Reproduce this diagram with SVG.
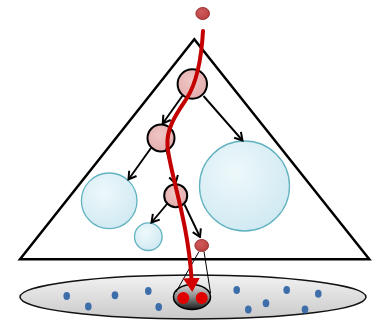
<svg xmlns="http://www.w3.org/2000/svg" width="376" height="321" viewBox="0 0 376 321">
<defs>
<radialGradient id="gPink" cx="0.45" cy="0.4" r="0.7">
<stop offset="0" stop-color="#f0c6c6"/>
<stop offset="1" stop-color="#e2a9a9"/>
</radialGradient>
<radialGradient id="gBlue" cx="0.4" cy="0.35" r="0.75">
<stop offset="0" stop-color="#eef8fb"/>
<stop offset="1" stop-color="#cde8f1"/>
</radialGradient>
<radialGradient id="gRed" cx="0.4" cy="0.35" r="0.7">
<stop offset="0" stop-color="#d05a5a"/>
<stop offset="1" stop-color="#b84040"/>
</radialGradient>
<linearGradient id="gBase" x1="0" y1="0" x2="0" y2="1">
<stop offset="0" stop-color="#f2f2f2"/>
<stop offset="1" stop-color="#c9c9c9"/>
</linearGradient>
<linearGradient id="gLeaf" x1="0" y1="0" x2="0" y2="1">
<stop offset="0" stop-color="#d8d8d8"/>
<stop offset="0.5" stop-color="#8a8a8a"/>
<stop offset="1" stop-color="#1a1a1a"/>
</linearGradient>
<marker id="aBlack" viewBox="0 0 12 12" refX="10.5" refY="6" markerWidth="12" markerHeight="12" markerUnits="userSpaceOnUse" orient="auto">
<path d="M3,1.5 L10.5,6 L3,10.5" fill="none" stroke="#000" stroke-width="2"/>
</marker>
<marker id="aRed" viewBox="0 0 14 17" refX="1" refY="8.5" markerWidth="14" markerHeight="17" markerUnits="userSpaceOnUse" orient="auto">
<path d="M0,0 L14,8.5 L0,17 Z" fill="#d40000"/>
</marker>
<style>
.pink{fill:url(#gPink);stroke:#000;stroke-width:2}
.blue{fill:url(#gBlue);stroke:#62b3c0;stroke-width:1.3}
.reddot{fill:url(#gRed);stroke:#9a3030;stroke-width:1}
.blu{fill:#3d6eaa}
.conn{fill:none;stroke:#000;stroke-width:1.9;marker-end:url(#aBlack)}
.cone{fill:none;stroke:#000;stroke-width:1}
</style>
</defs>
<rect width="376" height="321" fill="#fff"/>

<g id="base">
<ellipse cx="193" cy="297" rx="173" ry="22" fill="url(#gBase)" stroke="#111" stroke-width="1.5"/>
<ellipse class="blu" cx="66.7" cy="296" rx="3.3" ry="4"/>
<ellipse class="blu" cx="88.3" cy="306.5" rx="3.3" ry="4"/>
<ellipse class="blu" cx="115" cy="295.3" rx="3.3" ry="4"/>
<ellipse class="blu" cx="148.3" cy="291" rx="3.3" ry="4"/>
<ellipse class="blu" cx="158.7" cy="307" rx="3.3" ry="4"/>
<ellipse class="blu" cx="236.7" cy="290" rx="3.3" ry="4"/>
<ellipse class="blu" cx="248.3" cy="309.5" rx="3.3" ry="4"/>
<ellipse class="blu" cx="266" cy="303.3" rx="3.3" ry="4"/>
<ellipse class="blu" cx="286.7" cy="290" rx="3.3" ry="4"/>
<ellipse class="blu" cx="305" cy="309.5" rx="3.3" ry="4"/>
<ellipse class="blu" cx="318.3" cy="293.7" rx="3.3" ry="4"/>
</g>

<g id="tree">
<path d="M194.3,39.3 L369.3,259.3 L20,259.3 Z" fill="none" stroke="#000" stroke-width="2.5" stroke-linejoin="miter"/>
</g>

<g id="leafset">
<ellipse cx="192" cy="297" rx="18.5" ry="12.5" fill="url(#gLeaf)" stroke="#000" stroke-width="1.5"/>
<circle cx="183.3" cy="298" r="6" fill="#e00000"/>
<circle cx="201.7" cy="298" r="6" fill="#e00000"/>
</g>

<g id="cone">
<line class="cone" x1="199" y1="251.5" x2="176" y2="292"/>
<line class="cone" x1="204" y1="251.5" x2="210.5" y2="293"/>
</g>

<g id="n1"><circle class="pink" cx="192.3" cy="84" r="14.7"/></g>
<g id="n2"><circle class="pink" cx="161" cy="138" r="13.5"/></g>
<g id="n3"><circle class="pink" cx="175.7" cy="195.7" r="11.5"/></g>
<g id="bigR"><circle class="blue" cx="244.5" cy="186" r="45"/></g>
<g id="midL"><circle class="blue" cx="109.2" cy="200.8" r="27.8"/></g>
<g id="smallC"><circle class="blue" cx="148.3" cy="236.7" r="13.8"/></g>
<g id="query"><ellipse class="reddot" cx="202.7" cy="13.5" rx="6.8" ry="6"/></g>
<g id="leafNode"><ellipse class="reddot" cx="201.7" cy="245.5" rx="6.8" ry="6"/></g>

<g id="connectors">
<line class="conn" x1="183" y1="95" x2="162.7" y2="123.5"/>
<line class="conn" x1="203.5" y1="96" x2="242.5" y2="140.5"/>
<line class="conn" x1="151" y1="148" x2="128.5" y2="179.5"/>
<line class="conn" x1="166" y1="148.5" x2="175.5" y2="183.5"/>
<line class="conn" x1="167" y1="204" x2="151.5" y2="222.5"/>
<line class="conn" x1="184.5" y1="204.5" x2="200" y2="237"/>
<path d="M203,31 C201.5,58 197,82 187,98 C177,113 166,128 167.5,146 C169.5,172 188,220 191.5,279" fill="none" stroke="#c40000" stroke-width="4" stroke-linecap="round" marker-end="url(#aRed)"/>
</g>
</svg>
